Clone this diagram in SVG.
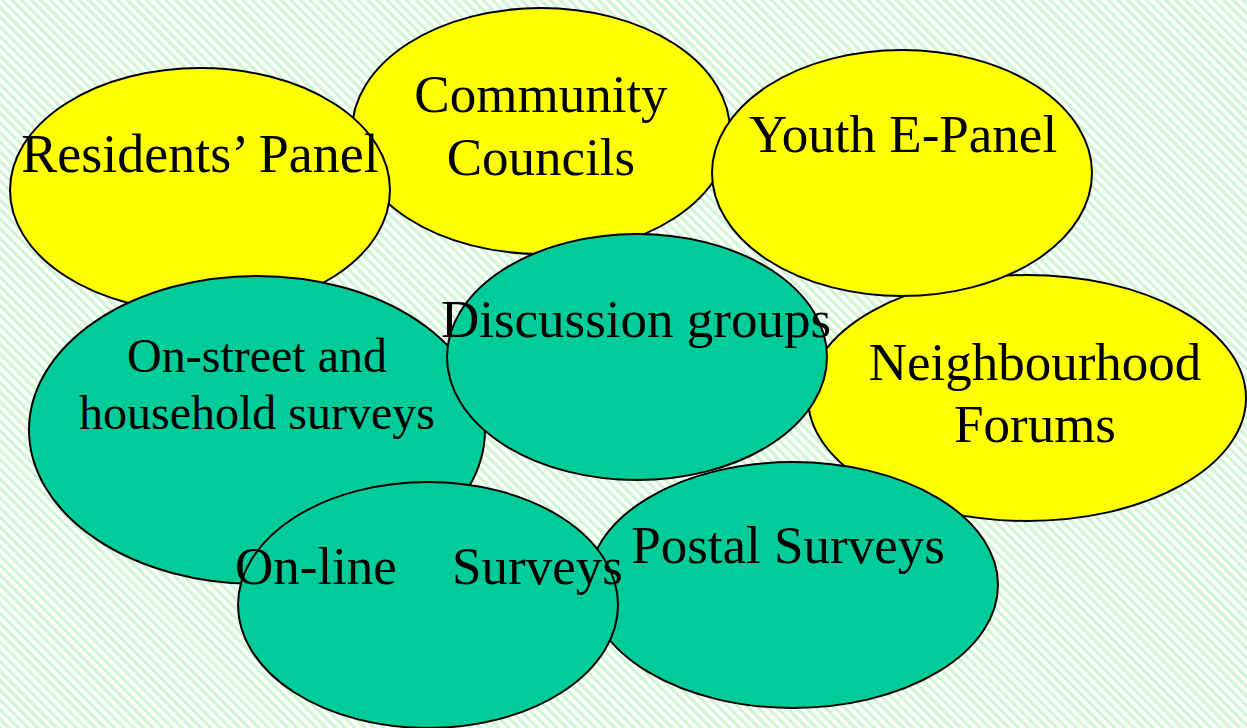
<svg xmlns="http://www.w3.org/2000/svg" width="1247" height="728" viewBox="0 0 1247 728">
<style>
.y{fill:#ffff00;stroke:#000;stroke-width:2}
.g{fill:#00cc99;stroke:#000;stroke-width:2}
text{font-family:"Liberation Serif","Times New Roman",serif;fill:#000;text-anchor:middle}
.t{font-size:53px}
.r{font-size:54px}
.s{font-size:48px}
</style>
<defs>
<pattern id="bg" width="6.8" height="6.8" patternUnits="userSpaceOnUse" patternTransform="rotate(-45)">
<rect width="6.8" height="6.8" fill="#ffffff"/>
<rect width="3.2" height="6.8" fill="#cff5d2"/>
</pattern>
</defs>
<rect width="1247" height="728" fill="url(#bg)"/>
<g id="community-councils">
<ellipse class="y" cx="541" cy="131" rx="189" ry="123"/>
<text class="t" x="541" y="112">Community</text>
<text class="t" x="541" y="175">Councils</text>
</g>
<g id="residents-panel">
<ellipse class="y" cx="200" cy="190" rx="190" ry="122"/>
<text class="r" x="200" y="172">Residents’ Panel</text>
</g>
<g id="on-street-surveys">
<ellipse class="g" cx="257" cy="430" rx="228" ry="154"/>
<text class="s" x="257" y="372">On-street and</text>
<text class="s" x="257" y="429">household surveys</text>
</g>
<g id="neighbourhood-forums">
<ellipse class="y" cx="1027" cy="398" rx="219" ry="123"/>
<text class="t" x="1035" y="380">Neighbourhood</text>
<text class="t" x="1035" y="442">Forums</text>
</g>
<g id="youth-e-panel">
<ellipse class="y" cx="902" cy="173" rx="190" ry="123"/>
<text class="t" x="903" y="152">Youth E-Panel</text>
</g>
<g id="discussion-groups">
<ellipse class="g" cx="637" cy="357" rx="190" ry="123"/>
<text class="t" x="636" y="337">Discussion groups</text>
</g>
<g id="postal-surveys">
<ellipse class="g" cx="793" cy="585" rx="205" ry="123"/>
<text class="t" x="788" y="563">Postal Surveys</text>
</g>
<g id="on-line-surveys">
<ellipse class="g" cx="428" cy="605" rx="190" ry="123"/>
<text class="t" y="584" style="text-anchor:start"><tspan x="235">On-line</tspan><tspan x="452">Surveys</tspan></text>
</g>
<g id="connectors"/>
</svg>
